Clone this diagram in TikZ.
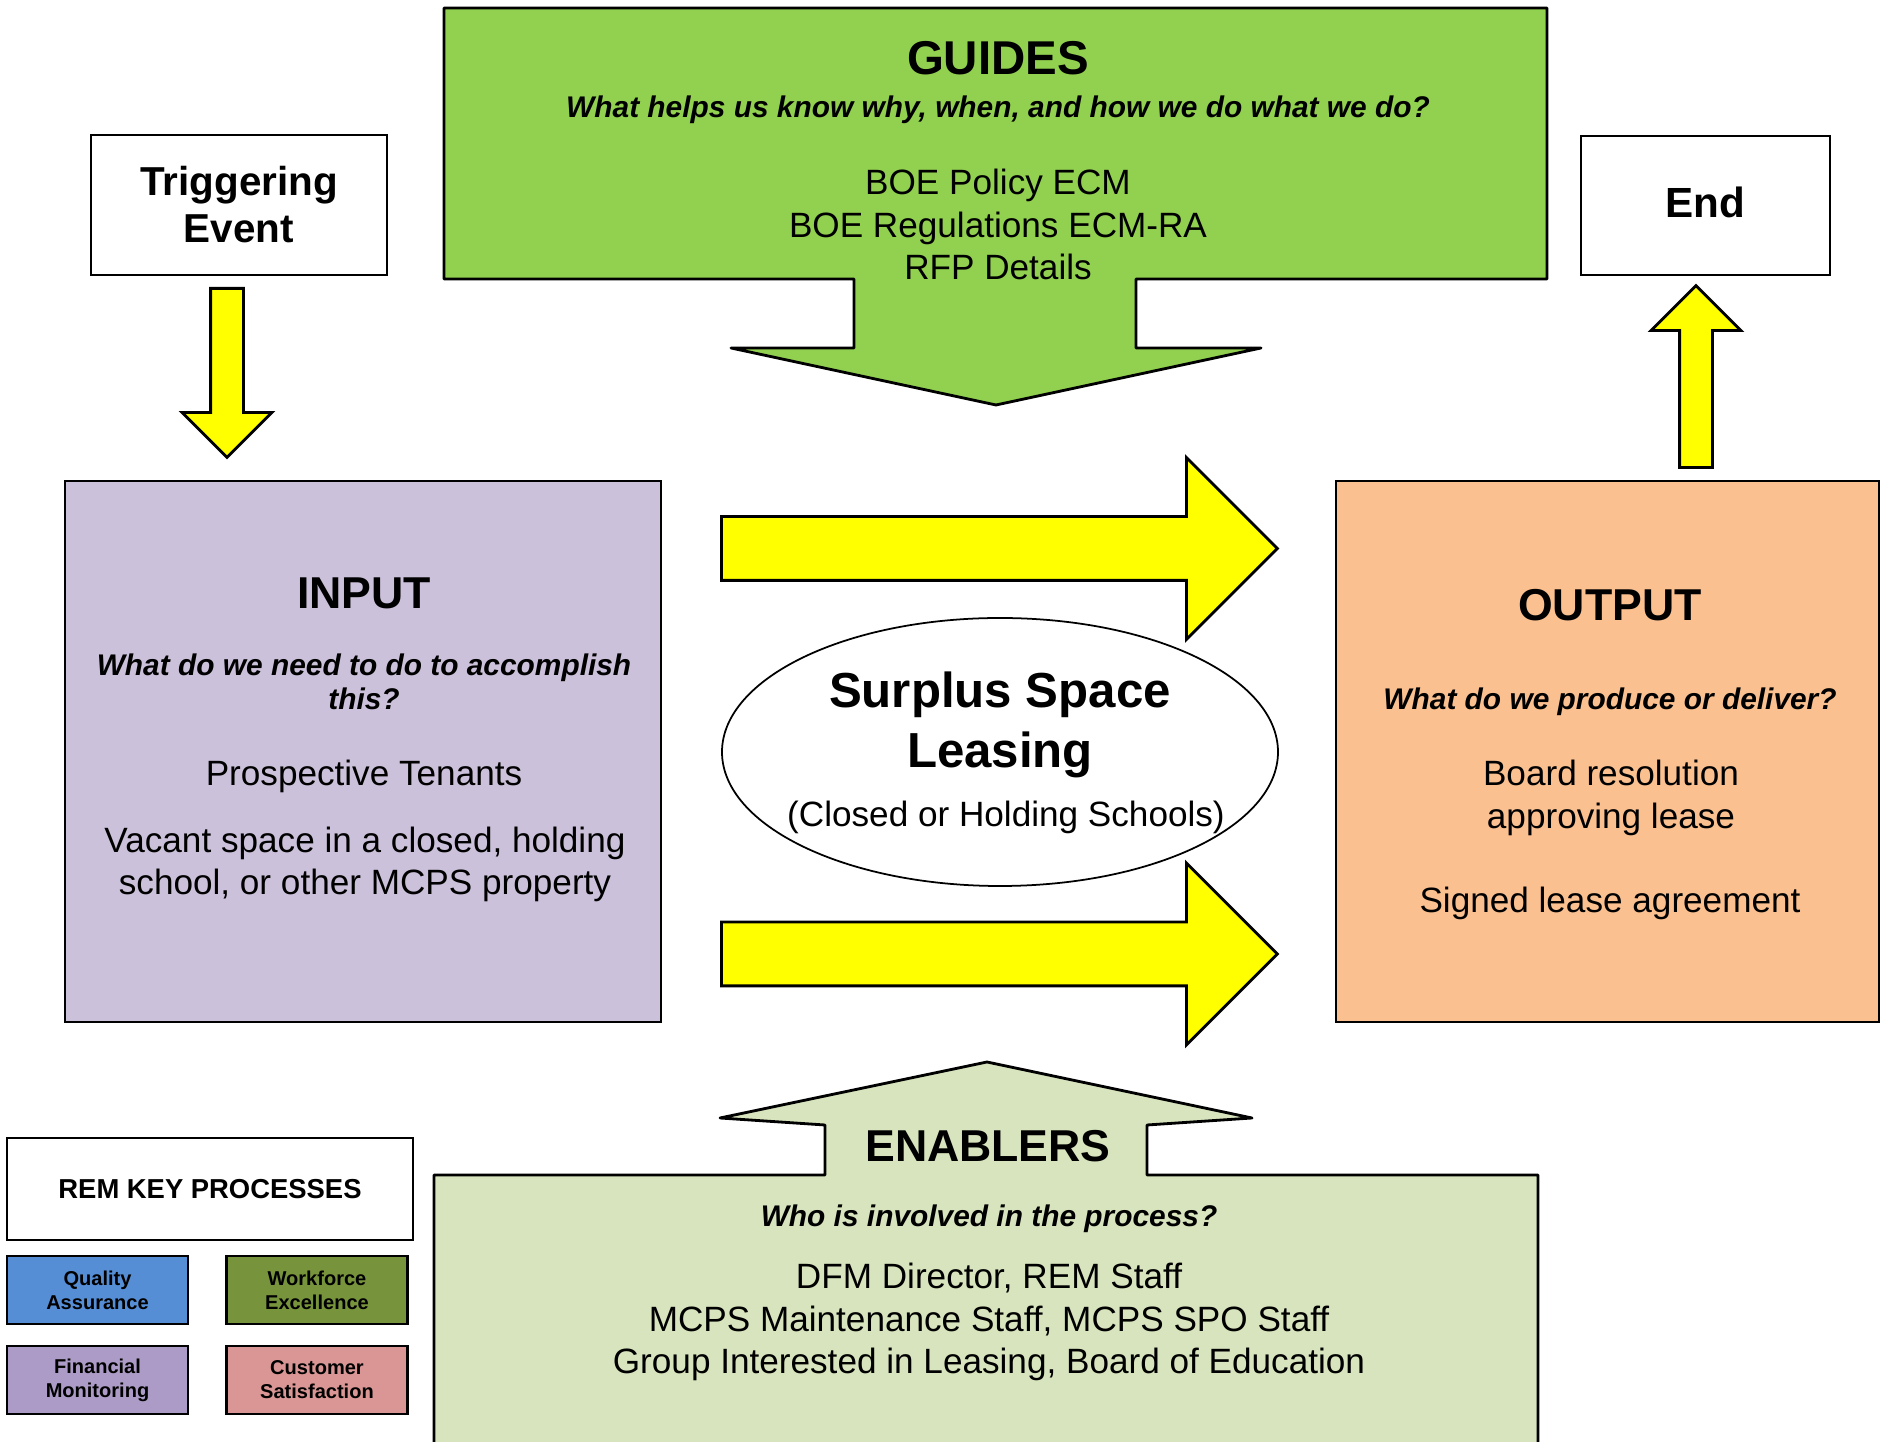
\documentclass[tikz,border=0pt]{standalone}
\usepackage{fontspec}
\setmainfont{Liberation Sans}
\usepackage{xcolor}
\usepackage{tikz}
\usetikzlibrary{arrows.meta,positioning,shapes.geometric,shapes.arrows}
\definecolor{guideGreen}{HTML}{92D050}
\definecolor{enableGreen}{HTML}{D7E4BD}
\definecolor{inputLilac}{HTML}{CCC1DA}
\definecolor{outputPeach}{HTML}{FAC090}
\definecolor{flowYellow}{HTML}{FFFF00}
\definecolor{keyBlue}{HTML}{558ED5}
\definecolor{keyOlive}{HTML}{77933C}
\definecolor{keyPurple}{HTML}{AC9BC6}
\definecolor{keyRose}{HTML}{D99694}
\tikzset{
  box/.style={rectangle, draw=black, line width=0.8pt, fill=white, align=center, inner sep=0pt},
  keybox/.style={rectangle, draw=black, line width=0.8pt, align=center, minimum width=18.1mm, minimum height=6.8mm, inner sep=0pt, font=\fontsize{5.7}{6.8}\selectfont\bfseries},
  txt/.style={align=center, inner sep=0pt},
  title/.style={txt, font=\fontsize{12.7}{15}\selectfont\bfseries},
  question/.style={txt, font=\fontsize{8.5}{9.7}\selectfont\bfseries\itshape},
  body/.style={txt, font=\fontsize{10}{12.1}\selectfont},
  flow/.style={single arrow, draw=black, line width=0.8pt, fill=flowYellow, inner sep=0pt, minimum width=0pt, single arrow tip angle=90},
  bigflow/.style={flow, inner ysep=3.05mm, single arrow head extend=5.9mm, minimum height=55.6mm},
  smallflow/.style={flow, inner ysep=1.5mm, single arrow head extend=2.85mm},
  panel/.style={draw=black, line width=0.8pt, line join=round}
}

\begin{document}
\begin{tikzpicture}[x=1mm, y=-1mm]
  \useasboundingbox (0,0) rectangle (188.5,144.2);
  \clip (0,0) rectangle (188.5,144.2);

  \draw[panel, fill=guideGreen] (44.4,0.8) -- (154.7,0.8) -- (154.7,27.9) -- (113.6,27.9) -- (113.6,34.8) -- (126.1,34.8) -- (99.6,40.5) -- (73.1,34.8) -- (85.4,34.8) -- (85.4,27.9) -- (44.4,27.9) -- cycle;
  \node[title, font=\fontsize{13.5}{16}\selectfont\bfseries] (guides) at (99.8,5.8) {GUIDES};
  \node[question] (guidesq) at (99.8,11.0) {What helps us know why, when, and how we do what we do?};
  \node[body] (guidesbody) at (99.8,22.45) {BOE Policy ECM\\BOE Regulations ECM-RA\\RFP Details};

  \draw[panel, fill=enableGreen] (43.4,146) -- (43.4,117.5) -- (82.5,117.5) -- (82.5,112.5) -- (72.0,111.8) -- (98.7,106.2) -- (125.2,111.8) -- (114.7,112.5) -- (114.7,117.5) -- (153.8,117.5) -- (153.8,146) -- cycle;
  \node[title] (enablers) at (98.8,114.6) {ENABLERS};
  \node[question] (enablersq) at (98.9,121.85) {Who is involved in the process?};
  \node[body] (enablersbody) at (98.9,132.2) {DFM Director, REM Staff\\MCPS Maintenance Staff, MCPS SPO Staff\\Group Interested in Leasing, Board of Education};

  \node[box, minimum width=29.6mm, minimum height=14mm, font=\fontsize{11.5}{13.4}\selectfont\bfseries] (trigger) at (23.9,20.5) {Triggering\\Event};
  \node[box, minimum width=24.9mm, minimum height=13.9mm, font=\fontsize{12}{14}\selectfont\bfseries] (end) at (170.55,20.55) {\raisebox{0.6mm}{End}};

  \node[box, fill=inputLilac, minimum width=59.6mm, minimum height=54.1mm] (input) at (36.3,75.15) {};
  \node[title] (inputtitle) at (36.4,59.3) {INPUT};
  \node[question] (inputq) at (36.4,68.15) {What do we need to do to accomplish\\this?};
  \node[body] (inputneed) at (36.4,77.6) {Prospective Tenants};
  \node[body] (inputspace) at (36.5,86.45) {Vacant space in a closed, holding\\school, or other MCPS property};

  \node[box, fill=outputPeach, minimum width=54.3mm, minimum height=54.1mm] (output) at (160.75,75.15) {};
  \node[title] (outputtitle) at (161.0,60.5) {OUTPUT};
  \node[question] (outputq) at (161.0,70.15) {What do we produce or deliver?};
  \node[body] (outputboard) at (161.1,79.8) {Board resolution\\approving lease};
  \node[body] (outputlease) at (161.0,90.35) {Signed lease agreement};

  \node[smallflow, rotate=-90, minimum height=16.9mm, anchor=tail] (startflow) at (22.7,28.7) {};
  \node[smallflow, rotate=90, minimum height=18.2mm, anchor=tail] (endflow) at (169.6,46.9) {};
  \node[bigflow, anchor=tail] (topflow) at (72.0,54.85) {};
  \node[bigflow, anchor=tail] (lowflow) at (72.0,95.4) {};

  \node[draw, ellipse, line width=0.5pt, minimum width=55.6mm, minimum height=26.8mm, inner sep=0pt] (core) at (100.0,75.2) {};
  \node[txt, font=\fontsize{14}{17}\selectfont\bfseries] (coretitle) at (100.0,72.5) {Surplus Space\\Leasing};
  \node[body] (coresub) at (100.6,81.75) {(Closed or Holding Schools)};

  \node[box, minimum width=40.6mm, minimum height=10.2mm, font=\fontsize{7.8}{9}\selectfont\bfseries] (rem) at (21.0,118.9) {REM KEY PROCESSES};
  \node[keybox, fill=keyBlue] (qa) at (9.75,129.0) {Quality\\Assurance};
  \node[keybox, fill=keyOlive] (wf) at (31.7,129.0) {Workforce\\Excellence};
  \node[keybox, fill=keyPurple] (fm) at (9.75,138.0) {Financial\\Monitoring};
  \node[keybox, fill=keyRose] (cs) at (31.7,138.0) {Customer\\Satisfaction};
\end{tikzpicture}
\end{document}
